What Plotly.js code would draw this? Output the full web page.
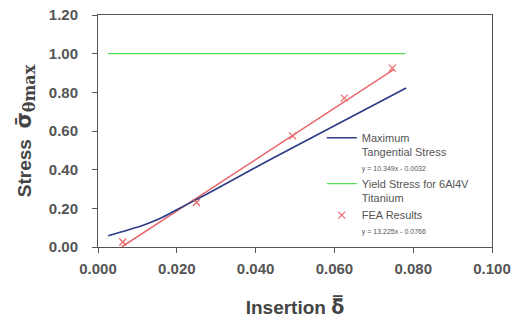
<!DOCTYPE html>
<html><head><meta charset="utf-8">
<script src="https://cdn.plot.ly/plotly-3.0.1.min.js"></script>
<style>html,body{margin:0;padding:0;background:#fff;}#chart{width:515px;height:320px;}</style>
</head><body><div id="chart"></div>
<script>
// Maximum Tangential Stress (curve)
const mtsX = [0.0026, 0.008, 0.012, 0.016, 0.020, 0.025, 0.030, 0.0435, 0.060, 0.0782];
const mtsY = [0.058, 0.091, 0.117, 0.150, 0.193, 0.246, 0.300, 0.450, 0.627, 0.822];
// Yield stress for 6Al4V Titanium
const yieldX = [0.0025, 0.078];
const yieldY = [1.00, 1.00];
// FEA results
const feaX = [0.0063, 0.025, 0.0494, 0.0625, 0.0747];
const feaY = [0.026, 0.230, 0.575, 0.770, 0.925];
// FEA linear fit y = 13.225x - 0.0766
const fitX = [0.0060, 0.0752];
const fitY = [0.000, 0.920];

const xTicks = [0, 0.02, 0.04, 0.06, 0.08, 0.1];
const xTickText = ['0.000', '0.020', '0.040', '0.060', '0.080', '0.100'];
const yTicks = [0, 0.2, 0.4, 0.6, 0.8, 1.0, 1.2];
const yTickText = ['0.00', '0.20', '0.40', '0.60', '0.80', '1.00', '1.20'];

const eqStyle = 'font-size:7px';
const traces = [
  {x: fitX, y: fitY, mode: 'lines', line: {color: '#e8676b', width: 1.5}, showlegend: false, hoverinfo: 'skip'},
  {x: mtsX, y: mtsY, mode: 'lines', line: {color: '#2b3b86', width: 1.6, shape: 'spline', smoothing: 1},
   name: 'Maximum<br>Tangential Stress<br><span style="' + eqStyle + '">y = 10.349x - 0.0032</span>'},
  {x: yieldX, y: yieldY, mode: 'lines', line: {color: '#55e055', width: 1.2},
   name: 'Yield Stress for 6Al4V<br>Titanium'},
  {x: feaX, y: feaY, mode: 'markers', marker: {symbol: 'x-thin', size: 7, color: '#e8676b', line: {color: '#e8676b', width: 1.2}},
   name: 'FEA Results<br><span style="' + eqStyle + '">y = 13.225x - 0.0766</span>'}
];

const tickFont = {family: 'Liberation Sans, Arial, sans-serif', size: 15, color: '#555', weight: 'bold'};
const titleFont = {family: 'Liberation Sans, Arial, sans-serif', size: 19, color: '#444', weight: 'bold'};
const layout = {
  width: 515, height: 320,
  margin: {l: 98, r: 23, t: 15, b: 73},
  paper_bgcolor: '#fff', plot_bgcolor: '#fff',
  showlegend: true,
  legend: {x: 0.568, y: 0.53, xanchor: 'left', yanchor: 'top', bgcolor: 'rgba(0,0,0,0)',
    font: {family: 'Liberation Sans, Arial, sans-serif', size: 11, color: '#555'},
    valign: 'top', tracegroupgap: 2, itemwidth: 30},
  xaxis: {range: [0, 0.1], tickvals: xTicks, ticktext: xTickText, tickfont: tickFont,
    showgrid: false, zeroline: false, showline: true, linecolor: '#555', linewidth: 1, mirror: true,
    ticks: 'outside', ticklen: 5, tickcolor: '#555', ticklabelstandoff: 3,
    title: {text: 'Insertion <span style="font-family:DejaVu Sans">δ̿</span>', font: titleFont, standoff: 24}},
  yaxis: {range: [0, 1.2], tickvals: yTicks, ticktext: yTickText, tickfont: tickFont,
    showgrid: false, zeroline: false, showline: true, linecolor: '#555', linewidth: 1, mirror: true,
    ticks: 'outside', ticklen: 5, tickcolor: '#555', ticklabelstandoff: 11,
    title: {text: 'Stress  <span style="font-family:DejaVu Sans;font-size:21px">σ̄</span><sub><span style="font-family:DejaVu Serif;font-size:16px">θmax</span></sub>', font: titleFont, standoff: 12}}
};
Plotly.newPlot('chart', traces, layout, {displayModeBar: false, staticPlot: true});
</script></body></html>
